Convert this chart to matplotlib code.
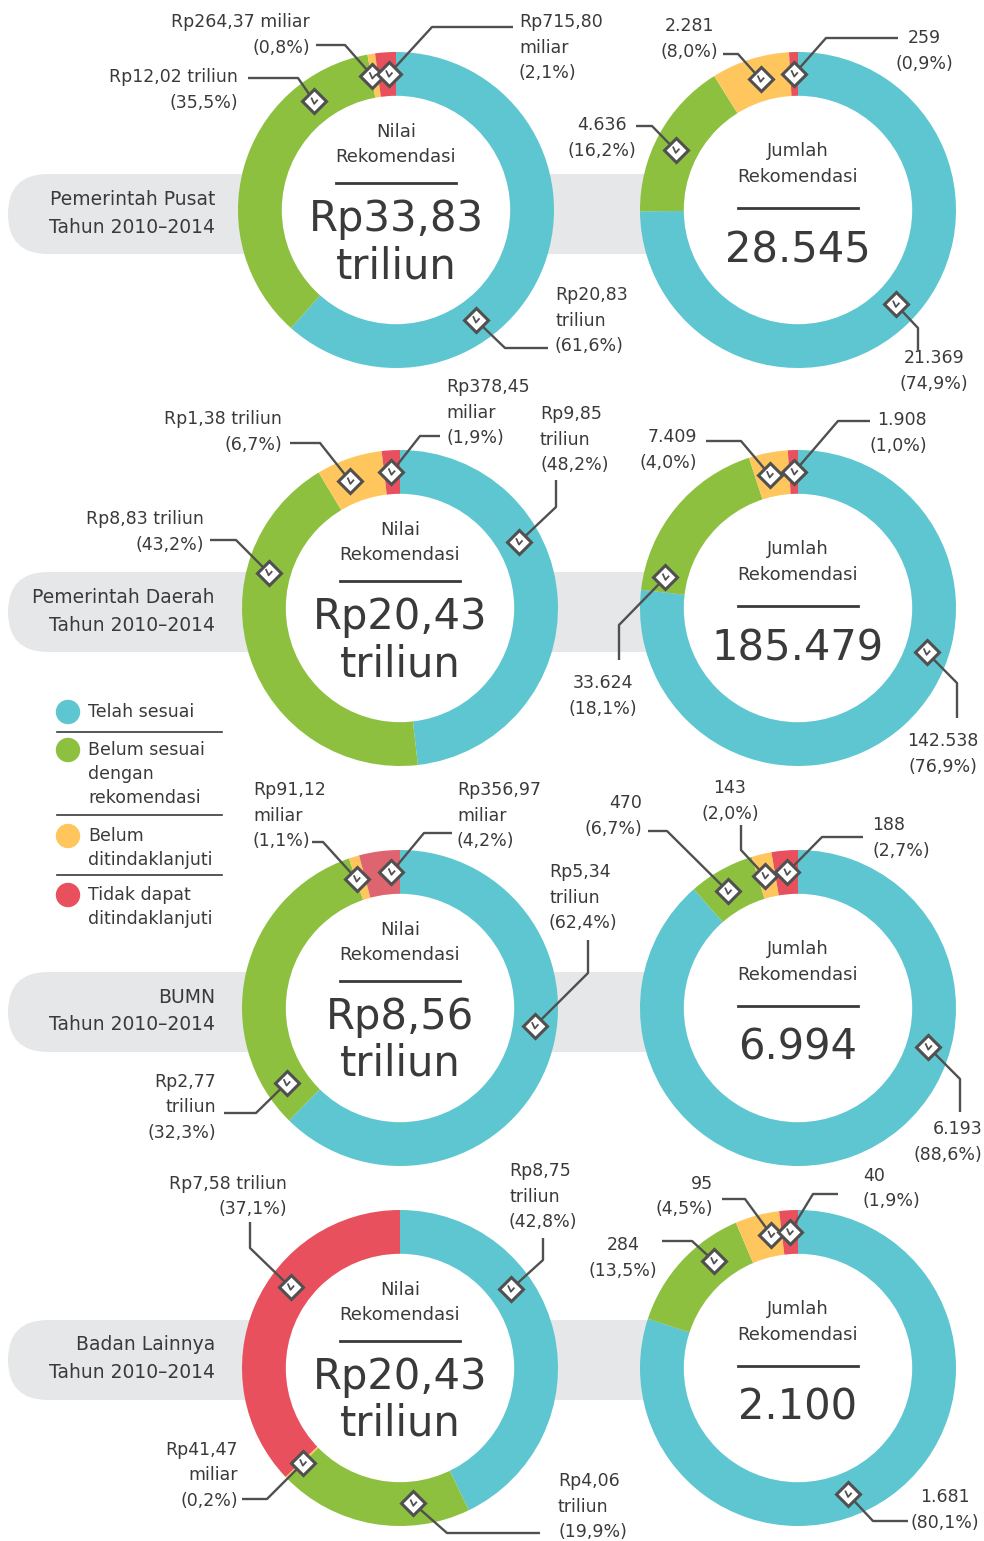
import matplotlib.pyplot as plt
import numpy as np
from matplotlib.patches import FancyBboxPatch, Circle

plt.rcParams['font.family'] = ['DejaVu Sans']

W, H = 984, 1541
TEAL, GREEN, YELLOW, RED = '#5ec6d0', '#8dc03f', '#ffc65e', '#e9505e'
TXT = '#3a3a3a'
LINE = '#505050'

# order in every ring: Telah sesuai, Belum sesuai, Belum ditindaklanjuti, Tidak dapat ditindaklanjuti
categories = ['Telah sesuai', 'Belum sesuai\ndengan\nrekomendasi', 'Belum\nditindaklanjuti', 'Tidak dapat\nditindaklanjuti']
groups = ['Pemerintah Pusat', 'Pemerintah Daerah', 'BUMN', 'Badan Lainnya']
nilai = [[20.83, 12.02, 0.26437, 0.71580],
         [9.85, 8.83, 1.38, 0.37845],
         [5.34, 2.77, 0.09112, 0.35697],
         [8.75, 4.06, 0.04147, 7.58]]
jumlah = [[21369, 4636, 2281, 259],
          [142538, 33624, 7409, 1908],
          [6193, 470, 143, 188],
          [1681, 284, 95, 40]]
nilai_total = ['Rp33,83', 'Rp20,43', 'Rp8,56', 'Rp20,43']
jumlah_total = ['28.545', '185.479', '6.994', '2.100']

# callouts: (angle clockwise from top, leader path, label lines, x, y, ha)
call_left = [
    [(144, [(505, 348), (548, 348)], ['Rp20,83', 'triliun', '(61,6%)'], 555, 295, 'left'),
     (323, [(298, 78), (248, 78)], ['Rp12,02 triliun', '(35,5%)'], 238, 77, 'right'),
     (350, [(345, 45), (316, 45)], ['Rp264,37 miliar', '(0,8%)'], 310, 22, 'right'),
     (357, [(432, 27), (513, 27)], ['Rp715,80', 'miliar', '(2,1%)'], 519, 22, 'left')],
    [(61, [(556, 507), (556, 480)], ['Rp9,85', 'triliun', '(48,2%)'], 540, 414, 'left'),
     (285, [(236, 540), (210, 540)], ['Rp8,83 triliun', '(43,2%)'], 204, 519, 'right'),
     (338.6, [(320, 443), (290, 443)], ['Rp1,38 triliun', '(6,7%)'], 282, 419, 'right'),
     (356.4, [(420, 436), (440, 436)], ['Rp378,45', 'miliar', '(1,9%)'], 446, 387, 'left')],
    [(97.6, [(588, 973), (588, 940)], ['Rp5,34', 'triliun', '(62,4%)'], 549, 872, 'left'),
     (236.5, [(256, 1113), (224, 1113)], ['Rp2,77', 'triliun', '(32,3%)'], 216, 1082, 'right'),
     (341.4, [(323, 842), (312, 842)], ['Rp91,12', 'miliar', '(1,1%)'], 253, 790, 'left'),
     (356.4, [(424, 833), (452, 833)], ['Rp356,97', 'miliar', '(4,2%)'], 457, 790, 'left')],
    [(54.6, [(543, 1260), (543, 1238)], ['Rp8,75', 'triliun', '(42,8%)'], 509, 1171, 'left'),
     (174.4, [(447, 1533), (540, 1533)], ['Rp4,06', 'triliun', '(19,9%)'], 558, 1481, 'left'),
     (225.6, [(267, 1499), (242, 1499)], ['Rp41,47', 'miliar', '(0,2%)'], 238, 1450, 'right'),
     (306.4, [(250, 1248), (250, 1222)], ['Rp7,58 triliun', '(37,1%)'], 287, 1184, 'right')],
]
call_right = [
    [(134, [(918, 328), (918, 350)], ['21.369', '(74,9%)'], 934, 358, 'center'),
     (296, [(652, 126), (636, 126)], ['4.636', '(16,2%)'], 602, 125, 'center'),
     (344, [(738, 54), (723, 54)], ['2.281', '(8,0%)'], 689, 26, 'center'),
     (358.4, [(826, 38), (898, 38)], ['259', '(0,9%)'], 924, 38, 'center')],
    [(109, [(957, 683), (957, 718)], ['142.538', '(76,9%)'], 943, 741, 'center'),
     (283, [(619, 625), (619, 660)], ['33.624', '(18,1%)'], 603, 683, 'center'),
     (348, [(741, 441), (706, 441)], ['7.409', '(4,0%)'], 697, 437, 'right'),
     (358.4, [(838, 421), (870, 421)], ['1.908', '(1,0%)'], 927, 420, 'right')],
    [(106.7, [(960, 1079), (960, 1112)], ['6.193', '(88,6%)'], 982, 1129, 'right'),
     (329, [(667, 831), (648, 831)], ['470', '(6,7%)'], 642, 803, 'right'),
     (346, [(741, 850), (741, 825)], ['143', '(2,0%)'], 730, 788, 'center'),
     (355.4, [(822, 837), (863, 837)], ['188', '(2,7%)'], 872, 825, 'left')],
    [(158.4, [(873, 1521), (908, 1521)], ['1.681', '(80,1%)'], 945, 1497, 'center'),
     (321.8, [(692, 1241), (662, 1241)], ['284', '(13,5%)'], 623, 1245, 'center'),
     (348.6, [(745, 1199), (722, 1199)], ['95', '(4,5%)'], 713, 1184, 'right'),
     (356.5, [(813, 1194), (838, 1194)], ['40', '(1,9%)'], 863, 1176, 'left')],
]

row_y = [210, 608, 1008, 1368]
left_x = [396, 400, 400, 400]
right_x = 798
R_OUT, R_W = 158, 45
colors = [TEAL, GREEN, YELLOW, RED]

fig = plt.figure(figsize=(W / 100, H / 100), dpi=100)
ax = fig.add_axes([0, 0, 1, 1])


def callouts(cx, cy, items):
    for ang, path, lines, lx, ly, ha in items:
        a = np.radians(ang)
        mx, my = cx + 136 * np.sin(a), cy - 136 * np.cos(a)
        xs = [mx] + [p[0] for p in path]
        ys = [my] + [p[1] for p in path]
        ax.plot(xs, ys, color=LINE, lw=1.7, zorder=4, solid_capstyle='butt')
        ax.plot(mx, my, marker='D', ms=12, mfc='white', mec=LINE, mew=2.2, zorder=5)
        ax.plot([mx - 2.5, mx, mx + 3], [my - 3, my + 2.5, my - 1], color=LINE, lw=1.3, zorder=6)
        for i, t in enumerate(lines):
            ax.text(lx, ly + i * 25.5, t, ha=ha, va='center', fontsize=12.5, color=TXT, zorder=6)


def donut(cx, cy, vals, cols):
    ax.pie(vals, radius=R_OUT, center=(cx, cy), colors=cols, startangle=-90,
           counterclock=True, wedgeprops=dict(width=R_W, edgecolor='none', linewidth=0))
    ax.add_patch(Circle((cx, cy), R_OUT - R_W + 0.5, color='white', zorder=1))


for r in range(4):
    cy = row_y[r]
    by = cy + (4 if r < 3 else -8)
    ax.add_patch(FancyBboxPatch((8, by - 40), 700, 80, boxstyle='round,pad=0,rounding_size=40',
                                fc='#e6e7e8', ec='none', zorder=0))
    ax.text(215, by - 15, groups[r], ha='right', va='center', fontsize=13.5, color=TXT, zorder=3)
    ax.text(215, by + 13, 'Tahun 2010\u20132014', ha='right', va='center', fontsize=13.5, color=TXT, zorder=3)

    cx = left_x[r]
    cols = colors if r != 2 else [TEAL, GREEN, YELLOW, '#de646f']
    donut(cx, cy, nilai[r], cols)
    ax.text(cx, cy - 78, 'Nilai', ha='center', va='center', fontsize=13, color=TXT, zorder=3)
    ax.text(cx, cy - 53, 'Rekomendasi', ha='center', va='center', fontsize=13, color=TXT, zorder=3)
    ax.plot([cx - 60, cx + 60], [cy - 27, cy - 27], color=TXT, lw=2, zorder=3)
    ax.text(cx, cy + 9, nilai_total[r], ha='center', va='center', fontsize=30, color=TXT, zorder=3)
    ax.text(cx, cy + 56, 'triliun', ha='center', va='center', fontsize=30, color=TXT, zorder=3)
    callouts(cx, cy, call_left[r])

    donut(right_x, cy, jumlah[r], colors)
    ax.text(right_x, cy - 59, 'Jumlah', ha='center', va='center', fontsize=13, color=TXT, zorder=3)
    ax.text(right_x, cy - 33, 'Rekomendasi', ha='center', va='center', fontsize=13, color=TXT, zorder=3)
    ax.plot([right_x - 60, right_x + 60], [cy - 2, cy - 2], color=TXT, lw=2, zorder=3)
    ax.text(right_x, cy + 40, jumlah_total[r], ha='center', va='center', fontsize=30, color=TXT, zorder=3)
    callouts(right_x, cy, call_right[r])

# legend
leg_y = [712, 750, 836, 895]
for i, (lab, c) in enumerate(zip(categories, colors)):
    ax.add_patch(Circle((68, leg_y[i]), 11.5, color=c, zorder=3))
    for j, t in enumerate(lab.split('\n')):
        ax.text(88, leg_y[i] + j * 24, t, ha='left', va='center', fontsize=12.5, color=TXT, zorder=3)
for y in [732, 815, 875]:
    ax.plot([57, 222], [y, y], color=TXT, lw=1.2, zorder=3)

ax.set_xlim(0, W)
ax.set_ylim(H, 0)
ax.set_aspect('equal')
ax.axis('off')
fig.savefig('out.png', dpi=100)
